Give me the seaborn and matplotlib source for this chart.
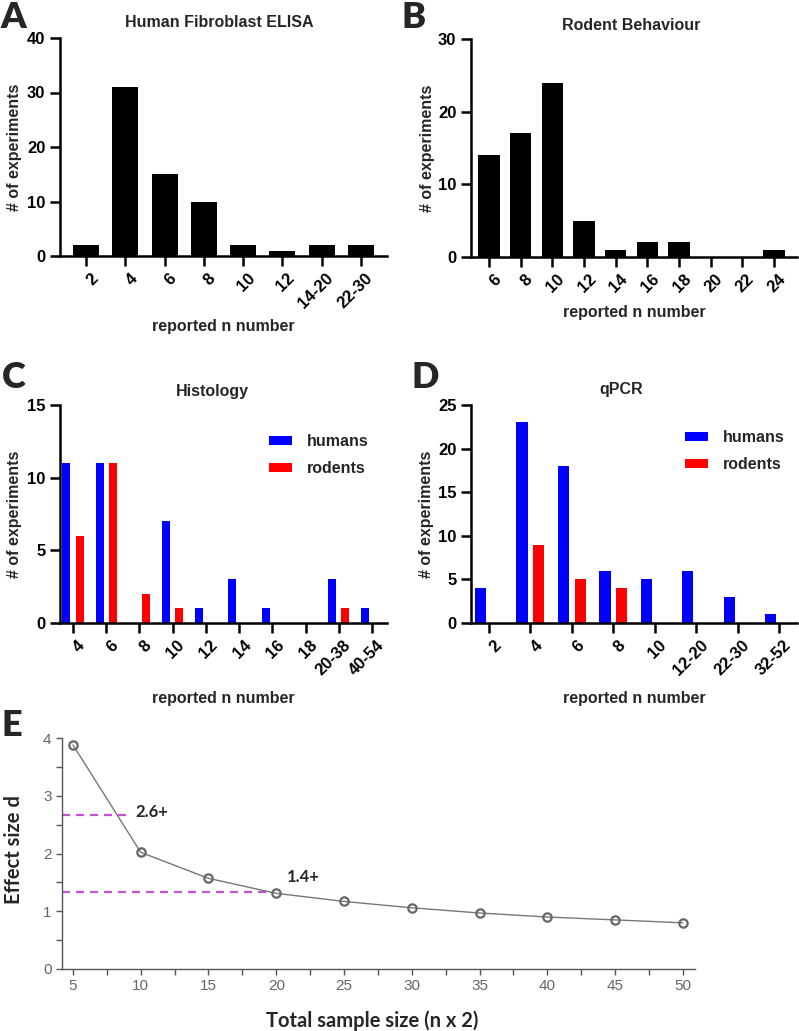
import pandas as pd
import matplotlib.pyplot as plt
import matplotlib.transforms as mtrans
import seaborn as sns

# values
elisa_labels = ['2', '4', '6', '8', '10', '12', '14-20', '22-30']
elisa_counts = [2, 31, 15, 10, 2, 1, 2, 2]

behav_labels = ['6', '8', '10', '12', '14', '16', '18', '20', '22', '24']
behav_counts = [14, 17, 24, 5, 1, 2, 2, 0, 0, 1]

histo_labels = ['4', '6', '8', '10', '12', '14', '16', '18', '20-38', '40-54']
histo_humans = [11, 11, 0, 7, 1, 3, 1, 0, 3, 1]
histo_rodents = [6, 11, 2, 1, 0, 0, 0, 0, 1, 0]

qpcr_labels = ['2', '4', '6', '8', '10', '12-20', '22-30', '32-52']
qpcr_humans = [4, 23, 18, 6, 5, 6, 3, 1]
qpcr_rodents = [0, 9, 5, 4, 0, 0, 0, 0]

sample_size = [5, 10, 15, 20, 25, 30, 35, 40, 45, 50]
effect_size = [3.88, 2.02, 1.57, 1.31, 1.17, 1.06, 0.97, 0.90, 0.85, 0.80]

sns.set_style('ticks')
plt.rcParams['font.family'] = ['Liberation Sans', 'DejaVu Sans']
plt.rcParams['font.weight'] = 'bold'

W, H = 799, 1031
fig = plt.figure(figsize=(W / 100, H / 100), dpi=100)
shift = mtrans.ScaledTranslation(3 / 72, 0, fig.dpi_scale_trans)


def box(left, top, right, bottom):
    return [left / W, 1 - bottom / H, (right - left) / W, (bottom - top) / H]


def style_bar_axis(ax, ymax, ystep, xlim):
    ax.set_ylim(0, ymax)
    ax.set_yticks(range(0, ymax + 1, ystep))
    ax.set_xlim(*xlim)
    sns.despine(ax=ax)
    for s in ['left', 'bottom']:
        ax.spines[s].set_linewidth(1.8)
        ax.spines[s].set_color('black')
    ax.tick_params(width=1.8, length=7, labelsize=12, colors='black')
    for lab in ax.get_xticklabels():
        lab.set_rotation(45)
        lab.set_ha('right')
        lab.set_rotation_mode('anchor')
        lab.set_fontweight('bold')
        lab.set_transform(lab.get_transform() + shift)
    for lab in ax.get_yticklabels():
        lab.set_fontweight('bold')
    ax.set_ylabel('# of experiments', fontsize=11.5, fontweight='bold')
    ax.set_xlabel('reported n number', fontsize=11.5, fontweight='bold', va='top')


def legend(ax, anchor):
    ax.legend(loc='center left', bbox_to_anchor=anchor, frameon=False,
              borderpad=0, borderaxespad=0, handlelength=1.45, handleheight=0.5,
              labelspacing=0.75, handletextpad=0.9,
              prop={'size': 11.5, 'weight': 'bold'})


# A
axA = fig.add_axes(box(60, 38, 387, 256))
sns.barplot(x=elisa_labels, y=elisa_counts, color='black', saturation=1,
            width=0.66, linewidth=0, ax=axA)
style_bar_axis(axA, 40, 10, (-0.66, 7.66))
axA.yaxis.set_label_coords(-0.115, 0.5)
axA.xaxis.set_label_coords(0.5, -0.29)
axA.text(0.486, 1.073, 'Human Fibroblast ELISA', transform=axA.transAxes,
         ha='center', va='center', fontsize=11.5, fontweight='bold')

# B
axB = fig.add_axes(box(471, 39, 797, 257))
sns.barplot(x=behav_labels, y=behav_counts, color='black', saturation=1,
            width=0.68, linewidth=0, ax=axB)
style_bar_axis(axB, 30, 10, (-0.57, 9.73))
axB.yaxis.set_label_coords(-0.11, 0.5)
axB.xaxis.set_label_coords(0.5, -0.22)
axB.text(0.49, 1.06, 'Rodent Behaviour', transform=axB.transAxes,
         ha='center', va='center', fontsize=11.5, fontweight='bold')

colors = {'humans': 'blue', 'rodents': 'red'}

# C
histo = pd.DataFrame({
    'n': histo_labels * 2,
    'count': histo_humans + histo_rodents,
    'group': ['humans'] * len(histo_labels) + ['rodents'] * len(histo_labels),
})
axC = fig.add_axes(box(60, 405, 387, 623))
sns.barplot(data=histo, x='n', y='count', hue='group', palette=colors,
            saturation=1, width=0.8, gap=0.4, linewidth=0, ax=axC)
style_bar_axis(axC, 15, 5, (-0.39, 9.45))
axC.yaxis.set_label_coords(-0.115, 0.5)
axC.xaxis.set_label_coords(0.5, -0.31)
axC.text(0.465, 1.06, 'Histology', transform=axC.transAxes,
         ha='center', va='center', fontsize=11.5, fontweight='bold')
legend(axC, (0.64, 0.77))

# D
qpcr = pd.DataFrame({
    'n': qpcr_labels * 2,
    'count': qpcr_humans + qpcr_rodents,
    'group': ['humans'] * len(qpcr_labels) + ['rodents'] * len(qpcr_labels),
})
axD = fig.add_axes(box(471, 405, 797, 623))
sns.barplot(data=qpcr, x='n', y='count', hue='group', palette=colors,
            saturation=1, width=0.8, gap=0.33, linewidth=0, ax=axD)
style_bar_axis(axD, 25, 5, (-0.43, 7.43))
axD.yaxis.set_label_coords(-0.115, 0.5)
axD.xaxis.set_label_coords(0.5, -0.31)
axD.text(0.46, 1.07, 'qPCR', transform=axD.transAxes,
         ha='center', va='center', fontsize=11.5, fontweight='bold')
legend(axD, (0.656, 0.79))

# E - effect size vs sample size
axE = fig.add_axes(box(62, 738, 695, 969))
axE.plot([4.19, 9.0], [2.67, 2.67], color='#c84fd6', lw=1.6, dashes=(3.6, 2.7))
axE.plot([4.19, 19.5], [1.34, 1.34], color='#c84fd6', lw=1.6, dashes=(3.6, 2.7))
sns.lineplot(x=sample_size, y=effect_size, color='#777777', lw=1.0,
             marker='o', markersize=6, markerfacecolor='none',
             markeredgecolor='#666666', markeredgewidth=1.6, ax=axE)
axE.set_xlim(4.19, 50.9)
axE.set_ylim(0, 4)
axE.set_xticks(sample_size)
axE.set_xticks([7.5 + 5 * i for i in range(9)], minor=True)
axE.set_yticks([0, 1, 2, 3, 4])
axE.set_yticks([0.5, 1.5, 2.5, 3.5], minor=True)
sns.despine(ax=axE)
for s in ['left', 'bottom']:
    axE.spines[s].set_color('#555555')
    axE.spines[s].set_linewidth(1.0)
axE.tick_params(which='both', length=4, width=1, color='#555555',
                labelcolor='#666666', labelsize=11)
for lab in axE.get_xticklabels() + axE.get_yticklabels():
    lab.set_fontweight('normal')
axE.text(9.57, 2.72, '2.6+', fontsize=12, fontweight='bold', family='Lato',
         va='center', ha='left')
axE.text(20.8, 1.59, '1.4+', fontsize=12, fontweight='bold', family='Lato',
         va='center', ha='left')
axE.set_ylabel('Effect size d', fontsize=14.5, fontweight='bold', family='Lato')
axE.set_xlabel('Total sample size (n x 2)', fontsize=14.5, fontweight='bold',
               family='Lato', va='top')
axE.yaxis.set_label_coords(-0.06, 0.515)
axE.xaxis.set_label_coords(0.49, -0.18)

# panel letters
for letter, x, y in [('A', 0, 17), ('B', 402, 17), ('C', 2, 378),
                     ('D', 411, 377), ('E', 1, 725)]:
    fig.text(x / W, 1 - y / H, letter, fontsize=26, fontweight='heavy',
             family='Lato', ha='left', va='center')

fig.savefig('out.png', dpi=100)
